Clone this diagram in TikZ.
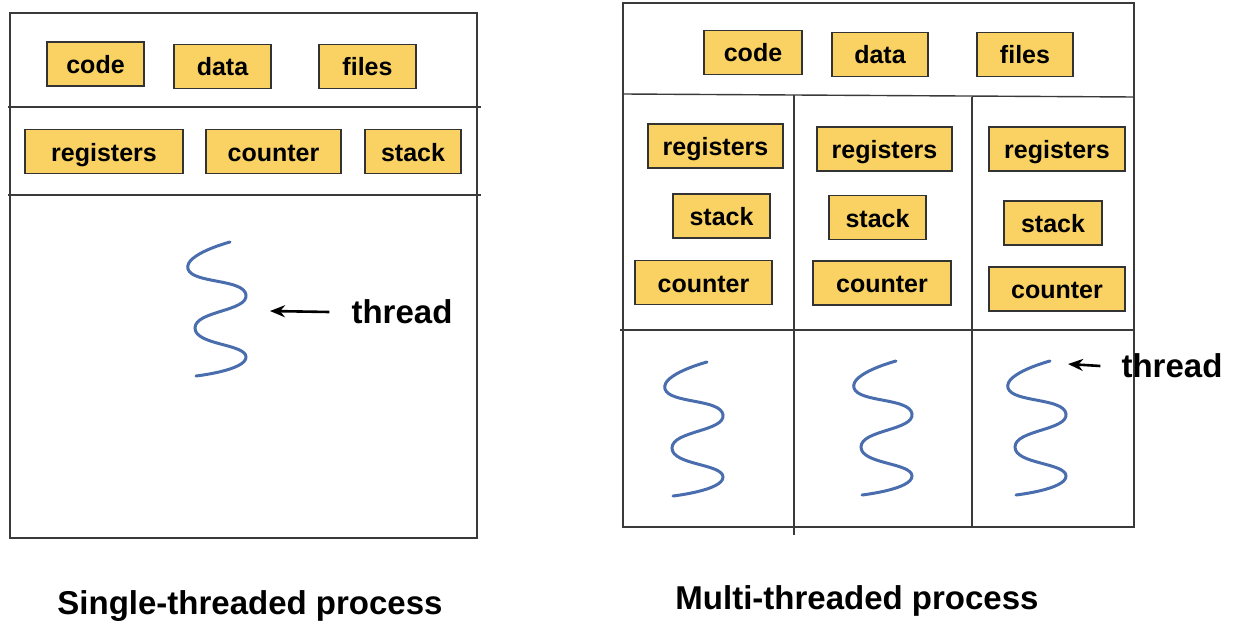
\documentclass[tikz,border=0pt]{standalone}
\usepackage{fontspec}
\setmainfont{Liberation Sans}
\usetikzlibrary{arrows.meta}
\definecolor{boxfill}{HTML}{F9D263}
\definecolor{framegray}{HTML}{3A3A3A}
\definecolor{wirebl}{HTML}{4A6DAE}

\begin{document}
\begin{tikzpicture}[
  x=1pt,y=-1pt,
  seg/.style={draw=black!80,fill=boxfill,line width=1.3pt,minimum height=44pt,inner sep=0pt,
    text height=21pt,text depth=2pt,font=\fontsize{25}{27}\selectfont\bfseries},
  frame/.style={draw=framegray,line width=1.4pt},
  thr/.style={wirebl,line width=3pt,line cap=round},
  ptr/.style={-{Stealth[length=15pt,width=12pt]},line width=2.6pt},
  lbl/.style={inner sep=0pt,font=\fontsize{33}{36}\selectfont\bfseries},
  threadline/.pic={\draw[thr] plot[smooth,tension=1] coordinates {(0,0) (-42,27) (16,53) (-35,86) (16,115) (-34,134)};},
]
  \useasboundingbox (0,0) rectangle (1235,626);

  % Single-threaded process
  \draw[frame] (10,13) rectangle (477,538);
  \draw[frame] (8,107) -- (481,107);
  \draw[frame] (8,195) -- (481,195);

  \node[seg,minimum width=97pt] (lcode) at (95.5,64) {code};
  \node[seg,minimum width=97pt] (ldata) at (222.5,66.5) {data};
  \node[seg,minimum width=97pt] (lfiles) at (367.5,66.5) {files};
  \node[seg,minimum width=158pt] (lregs) at (104,151.5) {registers};
  \node[seg,minimum width=135pt] (lctr) at (273.5,151.5) {counter};
  \node[seg,minimum width=96pt] (lstack) at (413,151.5) {stack};

  \pic at (230,242) {threadline};
  \coordinate (ltip) at (270,311);
  \node[lbl] (lthread) at (402,312) {thread};
  \draw[ptr] ([xshift=-22pt]lthread.west) -- (ltip);

  \node[lbl] (stitle) at (250,606) {Single-threaded process};

  % Multi-threaded process
  \draw[frame] (623,3) rectangle (1134,527);
  \draw[frame] (623,94) -- (1134,97);
  \draw[frame] (620,330) -- (1134,330);
  \draw[frame] (794,95) -- (794,535);
  \draw[frame] (972,97) -- (972,527);

  \node[seg,minimum width=98pt] (rcode) at (753,52.5) {code};
  \node[seg,minimum width=96pt] (rdata) at (880,54.5) {data};
  \node[seg,minimum width=96pt] (rfiles) at (1025,54.5) {files};

  \node[seg,minimum width=135pt] (regs1) at (715.5,146) {registers};
  \node[seg,minimum width=97pt] (stack1) at (721.5,216) {stack};
  \node[seg,minimum width=137pt] (ctr1) at (703.5,282.5) {counter};

  \node[seg,minimum width=135pt] (regs2) at (884.5,149) {registers};
  \node[seg,minimum width=97pt] (stack2) at (877.5,217.5) {stack};
  \node[seg,minimum width=138pt] (ctr2) at (882,283) {counter};

  \node[seg,minimum width=136pt] (regs3) at (1057,149) {registers};
  \node[seg,minimum width=98pt] (stack3) at (1053,223) {stack};
  \node[seg,minimum width=136pt] (ctr3) at (1057,289) {counter};

  \pic at (707,362) {threadline};
  \pic at (896,361) {threadline};
  \pic at (1050,361) {threadline};
  \coordinate (rtip) at (1068,364);
  \node[lbl] (rthread) at (1172,366) {thread};
  \draw[ptr] ([xshift=-21pt]rthread.west) -- (rtip);

  \node[lbl] (mtitle) at (857,601) {Multi-threaded process};
\end{tikzpicture}
\end{document}
